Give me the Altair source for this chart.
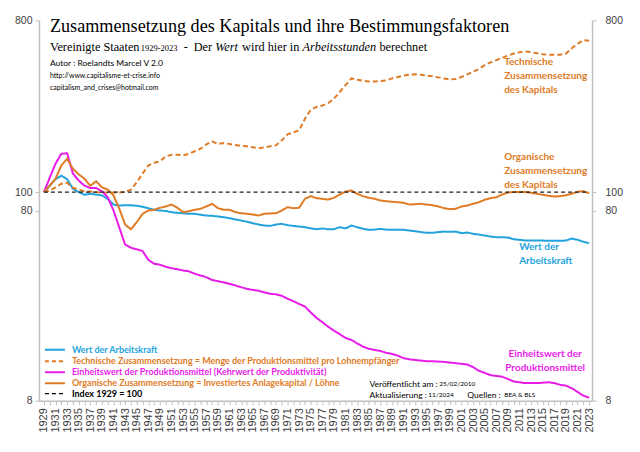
import altair as alt
import pandas as pd

years = list(range(1929, 2024))

wert = [100, 108, 117, 122, 117, 104, 100, 96.8, 98, 97, 96, 92, 86, 85, 85.3, 85.3, 84.7, 83.7, 82.3, 80.7, 80, 79.5,
        78.4, 77.8, 77.4, 76.9, 76.9, 76, 75.3, 75, 74.4, 73.8, 72.9, 71.8, 70.9, 69.8, 68.6, 67.5, 66.7, 66.4, 67.5, 68.1,
        67, 66.4, 65.9, 65.4, 64.4, 63.8,
        64.4, 63.8, 63.8, 65.4, 64.4, 66.7, 65.4, 64.1, 63.3, 63.5, 64.1, 63.5, 63.3, 63.3, 63.3, 62.8, 62.3, 61.6, 61.1,
        61.1, 61.6, 62.0, 61.8, 62.0, 60.8,
        61.3, 60.3, 59.8, 59.1, 58.4, 57.9, 57.9, 57.7, 56.5, 56.1, 55.6, 55.6, 55.6, 55.6, 55.4, 55.4, 55.4, 55.6, 57.0,
        56.1, 54.8, 53.9]

technische = [100, 102, 106, 110.6, 112, 105.3, 103, 101, 100.7, 100, 99.5, 99.5, 99.5, 99.5, 100.4, 103, 112.7, 125,
              138, 142.6, 145, 154,
              157, 157, 156, 159, 164, 169, 178, 185, 179, 181, 179, 177, 175, 174, 172, 170, 172, 174, 176, 187, 201,
              206, 211, 243, 271, 280,
              285, 294, 310, 336, 365, 396, 390, 385, 382, 382, 384, 386, 396, 403, 410, 414, 416, 414, 410, 406, 401,
              396, 391, 393, 403,
              416, 429, 444, 465, 481, 494, 508, 522, 535, 544, 548, 544, 537, 530, 528, 528, 528, 535, 571, 602, 630, 624]

einheit = [100, 119, 141, 159, 160, 125, 115, 108, 105, 105, 101, 94, 80, 65, 53, 51, 50, 49, 44, 42, 41.5, 40.5,
           39.8, 39.3, 38.7, 38.3, 37.2, 36.4, 35.7, 34.5, 34, 33.5, 32.9, 32.3, 31.6, 31.0, 30.6, 30.3, 29.7, 29.2, 29.0,
           28.5, 27.5, 26.7, 25.8, 25, 23.3, 21.8,
           20.7, 19.6, 18.7, 17.9, 17.1, 16.7, 16.0, 15.4, 15.0, 14.8, 14.6, 14.3, 14.1, 13.8, 13.4, 13.2, 13.1, 13.0,
           12.9, 12.9, 12.85, 12.8, 12.7, 12.6, 12.5,
           12.4, 12.0, 11.5, 11.2, 10.9, 10.8, 10.7, 10.4, 10.1, 10.0, 9.9, 9.9, 9.9, 9.95, 10.0, 9.9, 9.7, 9.6, 9.3,
           8.9, 8.5, 8.3]

organische = [100, 108, 117.5, 138, 149.7, 132.6, 124, 117.5, 108, 114, 106, 103, 96, 81.7, 67.5, 63.8, 69.4, 76.9,
              80, 80.7, 82.7, 84,
              86, 82.7, 78.4, 79.3, 80.7, 81.7, 84, 86.8, 82.3, 80.7, 80.7, 78.4, 77.4, 76.9, 76.2, 75.3, 76.9, 77.2,
              77.4, 80, 83.3, 82.3, 82.7, 92.2, 95.2, 92.9,
              92.2, 91.4, 93.3, 97.1, 100.7, 102, 98, 95.2, 93.3, 92.2, 90.3, 89.6, 88.9, 88.5, 87.8, 86, 86.4, 86.8,
              86, 85.3, 84, 82.3, 81.3, 81.7, 84,
              85, 86.8, 88.5, 91.1, 92.9, 94, 97.1, 99.5, 100, 100, 100, 99.1, 98, 96.8, 95.6, 94.8, 95.2, 96.3, 98,
              100.4, 101, 98.7]

series_names = ["Wert der Arbeitskraft", "Technische Zusammensetzung", "Einheitswert der Produktionsmittel",
                "Organische Zusammensetzung"]
series_colors = ["#22a3dc", "#e07b26", "#e81ce8", "#e07b26"]
series_dash = [[1, 0], [5, 3], [1, 0], [1, 0]]

y_ticks = [8, 80, 100, 800]

frames = []
for name, vals in zip(series_names, [wert, technische, einheit, organische]):
    frames.append(pd.DataFrame({"year": years, "value": vals, "series": name}))
df = pd.concat(frames, ignore_index=True)

index_df = pd.DataFrame({"x1": [1929], "x2": [2023], "v": [100]})
one = pd.DataFrame({"a": [0]})

X0, Y0 = 39, 20
W, H = 554, 381
GRAY = "#c0c0c0"
LBL = "#404040"
SANS = "Lato"
SERIF = "Liberation Serif"

xscale = alt.Scale(domain=[1928.14, 2023.5], nice=False, zero=False)
yscale = alt.Scale(type="log", domain=[8, 800], nice=False)

xaxis = alt.Axis(values=years, labelExpr="(datum.value - 1929) % 2 == 0 ? datum.value : ''",
                 labelAngle=-90, labelAlign="right", labelBaseline="middle", labelFlush=False,
                 labelOverlap=False, tickSize=4, tickColor=GRAY, domainColor=GRAY, domainWidth=1.5,
                 labelFont="Liberation Sans", labelFontSize=11, labelColor=LBL, grid=False, title=None,
                 labelPadding=3)


def yaxis(orient, pad):
    return alt.Axis(values=y_ticks, format="d", orient=orient, tickSize=4, tickColor=GRAY, domainColor=GRAY,
                    domainWidth=1.5, labelFont="Liberation Sans", labelFontSize=10.5, labelColor=LBL,
                    grid=False, title=None, labelFlush=False, labelPadding=pad)


lines = alt.Chart(df).mark_line(strokeWidth=2).encode(
    x=alt.X("year:Q", scale=xscale, axis=xaxis),
    y=alt.Y("value:Q", scale=yscale, axis=yaxis("left", 3)),
    color=alt.Color("series:N", scale=alt.Scale(domain=series_names, range=series_colors), legend=None),
    strokeDash=alt.StrokeDash("series:N", scale=alt.Scale(domain=series_names, range=series_dash), legend=None),
    detail="series:N",
)

right_axis = alt.Chart(df).mark_line(opacity=0).encode(
    x=alt.X("year:Q", scale=xscale, axis=xaxis),
    y=alt.Y("value:Q", scale=yscale, axis=yaxis("right", 9)),
    detail="series:N",
)

index_rule = alt.Chart(index_df).mark_rule(color="#222222", strokeWidth=1.3, strokeDash=[4, 3]).encode(
    x=alt.X("x1:Q", scale=xscale, axis=xaxis),
    x2="x2:Q",
    y=alt.Y("v:Q", scale=yscale, axis=None),
)


def txt(s, x, y, size, color="#000000", font=SANS, weight="normal", style="normal", align="left",
        baseline="middle"):
    return alt.Chart(one).mark_text(text=s, font=font, fontSize=size, fontWeight=weight, fontStyle=style,
                                    color=color, align=align, baseline=baseline).encode(
        x=alt.value(x - X0), y=alt.value(y - Y0))


def leg_rule(y, color, dash, width=2):
    return alt.Chart(one).mark_rule(color=color, strokeWidth=width, strokeDash=dash).encode(
        x=alt.value(45 - X0), x2=alt.value(65 - X0), y=alt.value(y - Y0))


ORANGE = "#e07b26"
BLUE = "#22a3dc"
MAG = "#e81ce8"
SUB = 12.3
SB = 51

texts = [
    txt("Zusammensetzung des Kapitals und ihre Bestimmungsfaktoren", 50, 32, 18.2, font=SERIF, baseline="alphabetic"),
    txt("Vereinigte Staaten", 50, SB, SUB, font=SERIF, baseline="alphabetic"),
    txt("1929-2023", 141, SB, 8.5, font=SERIF, baseline="alphabetic"),
    txt("-", 184, SB, SUB, font=SERIF, baseline="alphabetic"),
    txt("Der", 194, SB, SUB, font=SERIF, baseline="alphabetic"),
    txt("Wert", 215.5, SB, SUB, font=SERIF, style="italic", baseline="alphabetic"),
    txt("wird hier in", 242.5, SB, SUB, font=SERIF, baseline="alphabetic"),
    txt("Arbeitsstunden", 303, SB, SUB, font=SERIF, style="italic", baseline="alphabetic"),
    txt("berechnet", 380, SB, SUB, font=SERIF, baseline="alphabetic"),
    txt("Autor : Roelandts Marcel  V 2.0", 50, 63, 8.5),
    txt("http://www.capitalisme-et-crise.info", 50, 76, 7),
    txt("capitalism_and_crises@hotmail.com", 50, 88, 7),
    txt("Technische", 505, 62, 10, ORANGE, weight="bold"),
    txt("Zusammensetzung", 505, 76, 10, ORANGE, weight="bold"),
    txt("des Kapitals", 505, 90, 10, ORANGE, weight="bold"),
    txt("Organische", 505, 157, 10, ORANGE, weight="bold"),
    txt("Zusammensetzung", 505, 171, 10, ORANGE, weight="bold"),
    txt("des Kapitals", 505, 185, 10, ORANGE, weight="bold"),
    txt("Wert der", 520, 247, 10, BLUE, weight="bold"),
    txt("Arbeitskraft", 520, 261, 10, BLUE, weight="bold"),
    txt("Einheitswert der", 546, 354, 10, MAG, weight="bold", align="center"),
    txt("Produktionsmittel", 546, 368, 10, MAG, weight="bold", align="center"),
    txt("Wert der Arbeitskraft", 72, 350, 9, BLUE, weight="bold"),
    txt("Technische Zusammensetzung = Menge der Produktionsmittel pro Lohnempfänger", 72, 361.5, 9, ORANGE,
        weight="bold"),
    txt("Einheitswert der Produktionsmittel (Kehrwert der Produktivität)", 72, 372.5, 9, MAG, weight="bold"),
    txt("Organische Zusammensetzung = Investiertes Anlagekapital / Löhne", 72, 383.5, 9, ORANGE, weight="bold"),
    txt("Index 1929 = 100", 72, 394, 9, "#000000", weight="bold"),
    txt("Veröffentlicht am :", 370, 384, 8.5),
    txt("25/02/2010", 440, 384.5, 6.5),
    txt("Aktualisierung :", 370, 395, 8.5),
    txt("11/2024", 429, 395.5, 6.5),
    txt("Quellen :", 468, 395, 8.5),
    txt("BEA & BLS", 505, 395.5, 6.5),
]

legend_rules = [
    leg_rule(350, BLUE, [1, 0]),
    leg_rule(361.5, ORANGE, [4, 3]),
    leg_rule(372.5, MAG, [1, 0]),
    leg_rule(383.5, ORANGE, [1, 0]),
    leg_rule(394, "#000000", [4, 3], 1.3),
]

chart = alt.layer(lines, right_axis, index_rule, *legend_rules, *texts).resolve_axis(y="independent").properties(
    width=W, height=H,
    autosize=alt.AutoSizeParams(type="none"),
    padding={"left": X0 - 8, "top": Y0 - 8, "right": 40, "bottom": 36},
    background="white",
).configure_view(stroke=None)

chart.save("out.html", embed_options={"renderer": "svg", "actions": False})
